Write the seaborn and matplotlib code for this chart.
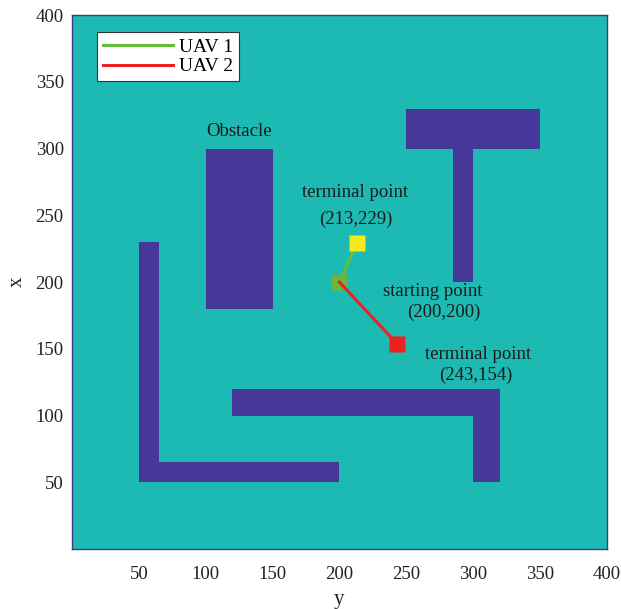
import numpy as np
import matplotlib
matplotlib.use("Agg")
import matplotlib.pyplot as plt
from matplotlib.colors import ListedColormap
import seaborn as sns

# ---- data ----
grid_size = 400
# obstacle rectangles in chart coordinates
obs_x0 = [100, 250, 285, 50, 50, 120, 300]
obs_x1 = [150, 350, 300, 65, 200, 320, 320]
obs_y0 = [180, 300, 200, 50, 50, 100, 50]
obs_y1 = [300, 330, 300, 230, 65, 120, 120]

start_pt = (200, 200)
uav1_end = (213, 229)
uav2_end = (243, 154)

ticks = [50, 100, 150, 200, 250, 300, 350, 400]
tick_labels = ["50", "100", "150", "200", "250", "300", "350", "400"]

bg_color = "#1dbab3"
obs_color = "#46389a"

grid = np.ones((grid_size, grid_size))
for a, b, c, d in zip(obs_x0, obs_x1, obs_y0, obs_y1):
    grid[c:d, a:b] = 0

plt.rcParams['font.family'] = ['Liberation Serif', 'DejaVu Serif']

fig = plt.figure(figsize=(6.21, 6.09), dpi=100)
ax = fig.add_axes([0.116, 0.0985, 0.861, 0.8765])
sns.heatmap(grid, ax=ax, cmap=ListedColormap([obs_color, bg_color]), cbar=False,
            vmin=0, vmax=1, xticklabels=False, yticklabels=False, rasterized=True)
ax.set_ylim(0, grid_size)
ax.set_xlim(0, grid_size)
for s in ax.spines.values():
    s.set_visible(True)
    s.set_color("#3f3c86")
    s.set_linewidth(1.0)

ax.set_xticks(ticks)
ax.set_xticklabels(tick_labels, fontsize=13.5, color="#222222")
ax.set_yticks(ticks)
ax.set_yticklabels(tick_labels, fontsize=13.5, color="#222222", rotation=0)
ax.tick_params(axis='x', length=0, pad=12)
ax.tick_params(axis='y', length=0, pad=6)
ax.set_xlabel("y", fontsize=15, color="#222222", labelpad=5)
ax.set_ylabel("x", fontsize=15, color="#222222", labelpad=6)

# paths
l1, = ax.plot([start_pt[0], uav1_end[0]], [start_pt[1], uav1_end[1]], color="#62bf3c", lw=2.2, label="UAV 1", zorder=3)
l2, = ax.plot([start_pt[0], uav2_end[0]], [start_pt[1], uav2_end[1]], color="#ee2020", lw=2.2, label="UAV 2", zorder=5)
ax.plot([uav1_end[0]], [uav1_end[1]], marker="s", ms=12, color="#f2ea1c", mec="none", zorder=4)
ax.plot([start_pt[0]], [start_pt[1]], marker="s", ms=12, color="#6cb43c", mec="none", zorder=4)
ax.plot([uav2_end[0]], [uav2_end[1]], marker="s", ms=12, color="#ee2020", mec="none", zorder=4)

tc = "#1a1a1a"
fs = 13.5
ax.text(125, 313, "Obstacle", ha="center", va="center", fontsize=fs, color=tc)
ax.text(212, 267, "terminal point", ha="center", va="center", fontsize=fs, color=tc)
ax.text(212, 247, "(213,229)", ha="center", va="center", fontsize=fs, color=tc)
ax.text(270, 193, "starting point", ha="center", va="center", fontsize=fs, color=tc)
ax.text(278, 177, "(200,200)", ha="center", va="center", fontsize=fs, color=tc)
ax.text(304, 146, "terminal point", ha="center", va="center", fontsize=fs, color=tc)
ax.text(302, 130, "(243,154)", ha="center", va="center", fontsize=fs, color=tc)

leg = ax.legend(handles=[l1, l2], loc="upper left", bbox_to_anchor=(0.047, 0.968),
                fontsize=14, frameon=True, fancybox=False, framealpha=1,
                edgecolor="#333333", handlelength=3.6, borderpad=0.3,
                labelspacing=0.1, handletextpad=0.3, borderaxespad=0)
leg.get_frame().set_linewidth(0.8)

fig.savefig("out.png", dpi=100)
